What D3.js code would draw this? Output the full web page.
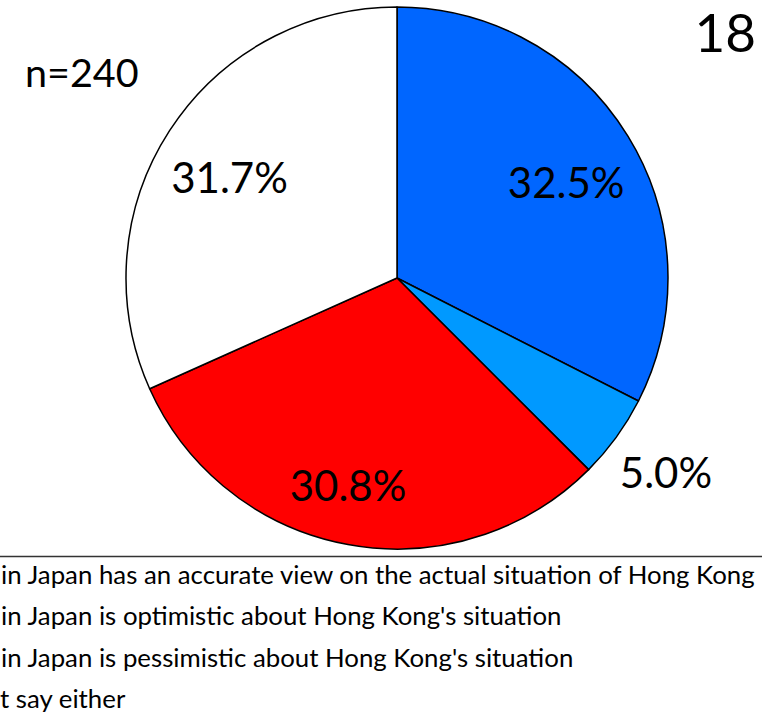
<!DOCTYPE html>
<html>
<head>
<meta charset="utf-8">
<script src="https://cdn.jsdelivr.net/npm/d3@7"></script>
<style>
  html, body { margin: 0; padding: 0; background: #fff; overflow: hidden; }
  svg { display: block; font-family: Lato, "Open Sans", sans-serif; }
</style>
</head>
<body>
<svg id="chart" width="762" height="723"></svg>
<script>
// Survey answers, clockwise from 12 o'clock
const categories = ["Accurate view", "Optimistic", "Pessimistic", "Can't say either"];
const values = [32.5, 5.0, 30.8, 31.7];
const sliceColors = ["#0066ff", "#0099ff", "#ff0000", "#ffffff"];
const legendLabels = [
  "in Japan has an accurate view on the actual situation of Hong Kong",
  "in Japan is optimistic about Hong Kong's situation",
  "in Japan is pessimistic about Hong Kong's situation",
  "t say either"
];
const sampleLabel = "n=240";
const pageNumber = "18";

const svg = d3.select("#chart");
const cx = 397, cy = 278, R = 271;

const pie = d3.pie().sort(null).value(d => d.value);
const arcs = pie(categories.map((c, i) => ({ name: c, value: values[i], color: sliceColors[i] })));
const arc = d3.arc().innerRadius(0).outerRadius(R);

const g = svg.append("g").attr("transform", `translate(${cx},${cy})`);

g.selectAll("path.slice")
  .data(arcs)
  .join("path")
  .attr("class", "slice")
  .attr("d", arc)
  .attr("fill", d => d.data.color)
  .attr("stroke", "#000")
  .attr("stroke-width", 1.5)
  .attr("stroke-linejoin", "round");

// Percentage labels: inside for big slices, outside for the thin one,
// nudged a little from the arc centroid
const labelRadius = [196, 330, 204, 196];
const labelNudge = [[2, 6], [2, 0], [-12, 6], [-3, 6]];
const labelPos = d => {
  const r = labelRadius[d.index];
  const [x, y] = d3.arc().innerRadius(r).outerRadius(r).centroid(d);
  return [x + labelNudge[d.index][0], y + labelNudge[d.index][1]];
};
g.selectAll("text.pct")
  .data(arcs)
  .join("text")
  .attr("class", "pct")
  .attr("x", d => labelPos(d)[0])
  .attr("y", d => labelPos(d)[1])
  .attr("text-anchor", "middle")
  .attr("dominant-baseline", "central")
  .attr("font-size", 42)
  .attr("fill", "#000")
  .text(d => d.data.value.toFixed(1) + "%");

svg.append("text")
  .attr("x", 25).attr("y", 87)
  .attr("font-size", 39.5)
  .text(sampleLabel);

svg.append("text")
  .attr("x", 756).attr("y", 52)
  .attr("text-anchor", "end")
  .attr("font-size", 53)
  .text(pageNumber);

// Legend, separated from the pie by a rule
svg.append("line")
  .attr("x1", 0).attr("x2", 762)
  .attr("y1", 556.5).attr("y2", 556.5)
  .attr("stroke", "#333")
  .attr("stroke-width", 1.5);

const legendY = d3.scaleLinear().domain([0, 3]).range([584, 708]);
svg.selectAll("text.legend")
  .data(legendLabels)
  .join("text")
  .attr("class", "legend")
  .attr("x", (d, i) => i === 3 ? 0 : 1)
  .attr("y", (d, i) => legendY(i))
  .attr("font-size", 25.8)
  .attr("fill", "#000")
  .text(d => d);
</script>
</body>
</html>
